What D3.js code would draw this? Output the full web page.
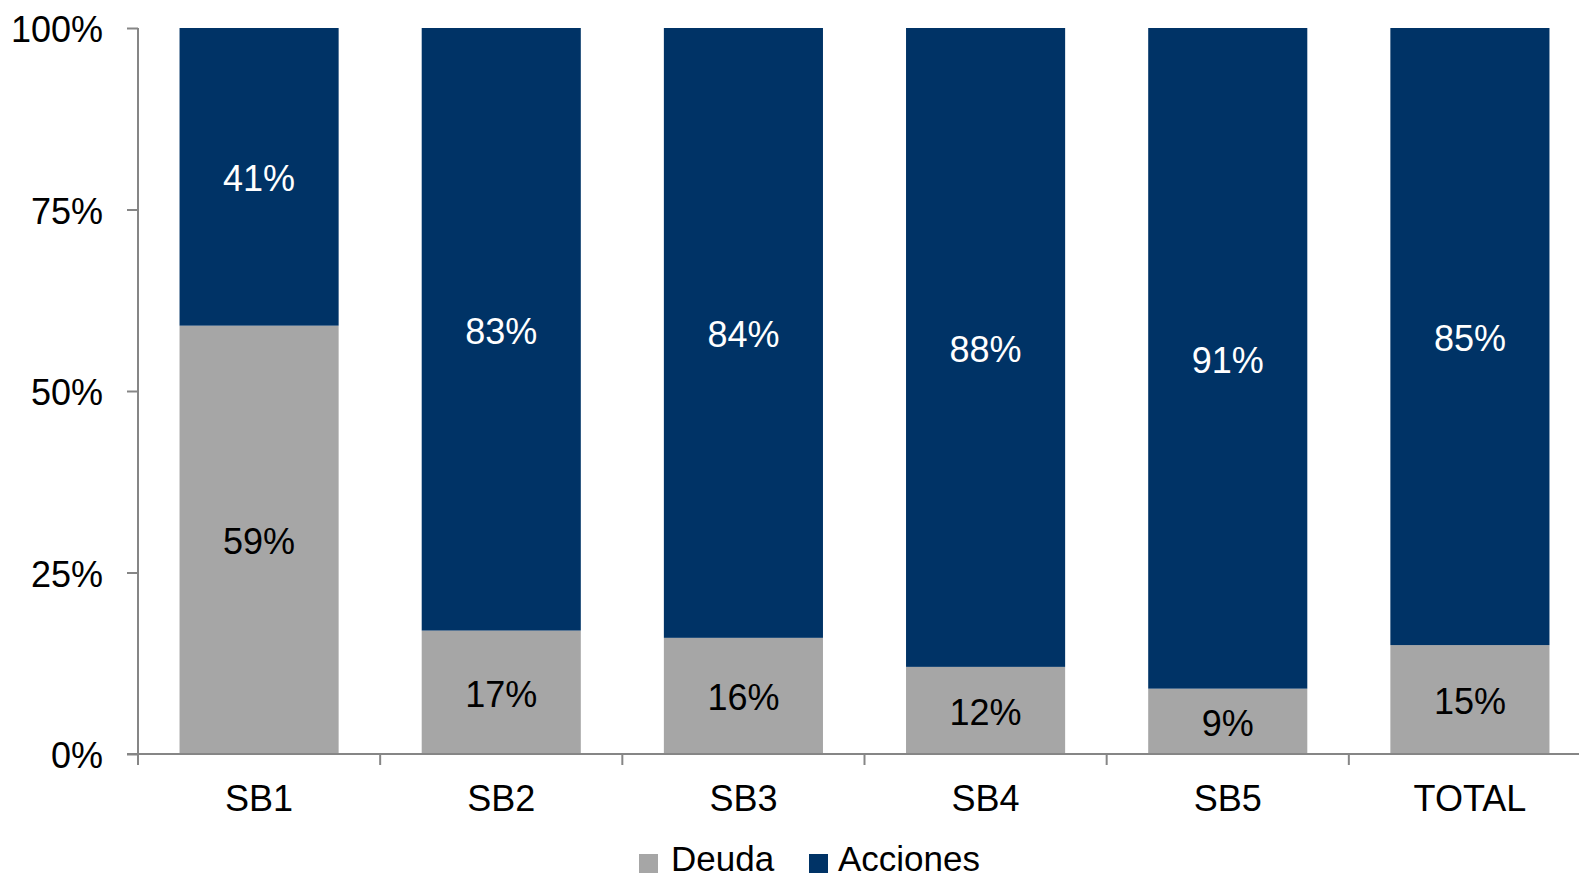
<!DOCTYPE html>
<html>
<head>
<meta charset="utf-8">
<script src="https://cdn.jsdelivr.net/npm/d3@7"></script>
<style>
  html, body { margin: 0; padding: 0; background: #fff; }
  svg { display: block; font-family: "Liberation Sans", Arial, sans-serif; }
</style>
</head>
<body>
<svg id="chart" width="1579" height="879"></svg>
<script>
// Share of debt (Deuda) and equity (Acciones) per sub-fund
const categories = ["SB1", "SB2", "SB3", "SB4", "SB5", "TOTAL"];
const deuda    = [59, 17, 16, 12, 9, 15];
const acciones = [41, 83, 84, 88, 91, 85];
const yTicks = [0, 25, 50, 75, 100];
const seriesNames = ["Deuda", "Acciones"];
const seriesColors = ["#A6A6A6", "#003366"];

const svg = d3.select("#chart");
const axisColor = "#868686";

const margin = { left: 138, top: 28, bottom: 754 };
const x = d3.scaleBand().domain(categories).range([138, 1591]).paddingInner(0).paddingOuter(0);
const y = d3.scaleLinear().domain([0, 100]).range([754, 28]);
const barWidth = x.bandwidth() * 0.657;

const rows = categories.map((c, i) => ({ cat: c, deuda: deuda[i], acciones: acciones[i] }));
const stack = d3.stack().keys(["deuda", "acciones"]);
const stacked = stack(rows);

// bars
const layers = svg.append("g").selectAll("g")
  .data(stacked).join("g")
  .attr("fill", (d, i) => seriesColors[i]);

layers.selectAll("rect")
  .data(d => d.map(v => ({ v, key: d.key })))
  .join("rect")
  .attr("x", d => x(d.v.data.cat) + (x.bandwidth() - barWidth) / 2)
  .attr("width", barWidth)
  .attr("y", d => y(d.v[1]))
  .attr("height", d => y(d.v[0]) - y(d.v[1]));

// value labels centred in each segment
layers.selectAll("text")
  .data((d, i) => d.map(v => ({ v, i })))
  .join("text")
  .attr("x", d => x(d.v.data.cat) + x.bandwidth() / 2)
  .attr("y", d => y((d.v[0] + d.v[1]) / 2))
  .attr("dy", "0.4em")
  .attr("text-anchor", "middle")
  .attr("font-size", 36)
  .attr("fill", d => d.i === 1 ? "#ffffff" : "#000000")
  .text(d => Math.round(d.v[1] - d.v[0]) + "%");

// y axis
const yAxis = d3.axisLeft(y).tickValues(yTicks).tickSize(11).tickPadding(24)
  .tickFormat(d => d + "%");
const gy = svg.append("g").attr("transform", `translate(${margin.left},0)`).call(yAxis);
gy.select(".domain").attr("stroke", axisColor).attr("stroke-width", 2)
  .attr("d", `M0,${y(0)}V${y(100)}`);
gy.selectAll(".tick line").attr("stroke", axisColor).attr("stroke-width", 2);
gy.selectAll(".tick text").attr("font-size", 36).attr("fill", "#000")
  .attr("dy", "0.38em")
  .attr("font-family", "Liberation Sans, Arial, sans-serif");

// x axis with ticks between categories
const gx = svg.append("g").attr("transform", `translate(0,${y(0)})`);
gx.append("line").attr("x1", 127).attr("x2", 1579).attr("y1", 0).attr("y2", 0)
  .attr("stroke", axisColor).attr("stroke-width", 2);
gx.selectAll("line.sep")
  .data(categories).join("line").attr("class", "sep")
  .attr("x1", d => x(d)).attr("x2", d => x(d))
  .attr("y1", 0).attr("y2", 11)
  .attr("stroke", axisColor).attr("stroke-width", 2);
gx.selectAll("text.cat")
  .data(categories).join("text").attr("class", "cat")
  .attr("x", d => x(d) + x.bandwidth() / 2)
  .attr("y", 57)
  .attr("text-anchor", "middle")
  .attr("font-size", 36)
  .attr("fill", "#000")
  .text(d => d);

// legend
const legendItems = [
  { name: seriesNames[0], color: seriesColors[0], sx: 639, tx: 671 },
  { name: seriesNames[1], color: seriesColors[1], sx: 809, tx: 838 }
];
const lg = svg.append("g");
lg.selectAll("rect").data(legendItems).join("rect")
  .attr("x", d => d.sx).attr("y", 854).attr("width", 19).attr("height", 19)
  .attr("fill", d => d.color);
lg.selectAll("text").data(legendItems).join("text")
  .attr("x", d => d.tx).attr("y", 871)
  .attr("font-size", 35).attr("fill", "#000")
  .text(d => d.name);
</script>
</body>
</html>
